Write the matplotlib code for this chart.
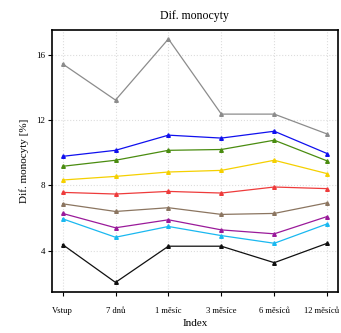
import numpy as np
import matplotlib
matplotlib.use("Agg")
import matplotlib.pyplot as plt
import matplotlib.transforms as mtrans

plt.rcParams['font.family'] = ['Liberation Serif', 'DejaVu Serif']

labels = ['Vstup', '7 dnů', '1 měsíc', '3 měsíce', '6 měsíců', '12 měsíců']

gray = [15.45, 13.23, 16.98, 12.37, 12.37, 11.15]
blue = [9.78, 10.15, 11.08, 10.9, 11.32, 9.95]
green = [9.17, 9.54, 10.15, 10.2, 10.77, 9.5]
yellow = [8.33, 8.55, 8.82, 8.92, 9.54, 8.72]
red = [7.57, 7.47, 7.63, 7.53, 7.9, 7.8]
brown = [6.87, 6.4, 6.63, 6.22, 6.28, 6.93]
purple = [6.28, 5.4, 5.89, 5.27, 5.03, 6.09]
cyan = [5.95, 4.82, 5.48, 4.92, 4.45, 5.64]
black = [4.37, 2.05, 4.27, 4.27, 3.26, 4.45]

series = [
    (gray, '#8c8c8c'),
    (blue, '#1010ee'),
    (green, '#4a8c10'),
    (yellow, '#f5d000'),
    (red, '#ee3b3b'),
    (brown, '#8b7560'),
    (purple, '#9a1a9a'),
    (cyan, '#1ab8f0'),
    (black, '#101010'),
]

fig = plt.figure(figsize=(3.41, 3.33), dpi=100)
ax = fig.add_axes([0.1525, 0.124, 0.838, 0.787])

x = np.arange(len(labels))
for vals, c in series:
    ax.plot(x, vals, color=c, lw=0.9, marker='^', ms=2.6, zorder=3)

ax.set_xlim(-0.2, 5.2)
ax.set_ylim(1.48, 17.55)
ax.set_xticks(x)
ax.set_xticklabels(labels, fontsize=6.2)
ax.set_yticks([4, 8, 12, 16])
ax.tick_params(axis='y', labelsize=6.5, length=3, width=0.8, pad=2)
ax.tick_params(axis='x', length=3, width=0.8, pad=8)
ax.grid(True, color='#dddddd', linestyle=':', linewidth=0.8)
for s in ax.spines.values():
    s.set_linewidth(1.2)

# keep the last label inside the canvas
last = ax.get_xticklabels()[-1]
last.set_transform(last.get_transform() + mtrans.ScaledTranslation(-4 / 72, 0, fig.dpi_scale_trans))

ax.set_title('Dif. monocyty', fontsize=8.5, pad=8)
ax.set_xlabel('Index', fontsize=8, labelpad=3)
ax.set_ylabel('Dif. monocyty [%]', fontsize=8, labelpad=5)

fig.savefig('out.png', dpi=100)
